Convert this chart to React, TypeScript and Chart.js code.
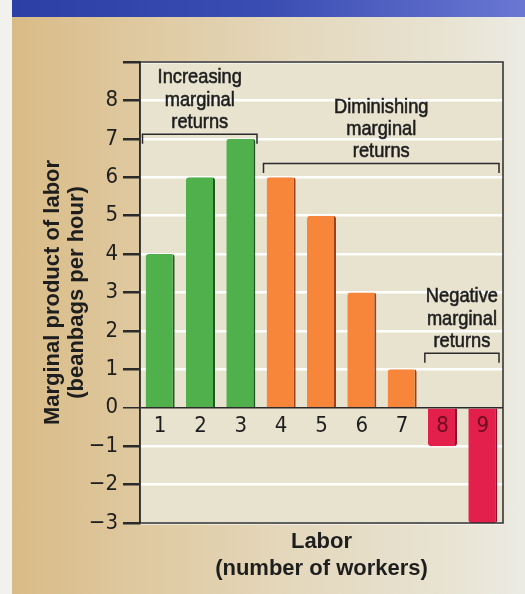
import React, { useEffect, useRef } from 'react';
import { Chart, registerables } from 'chart.js';

Chart.register(...registerables);

// ---- data ----
const workers: string[] = ['1', '2', '3', '4', '5', '6', '7', '8', '9'];
const marginalProduct: number[] = [4, 6, 7, 6, 5, 3, 1, -1, -3];
const yMin = -3;
const yMax = 9;
const yTickStep = 1;

const yTitleLines = ['Marginal product of labor', '(beanbags per hour)'];
const xTitleLines = ['Labor', '(number of workers)'];

const stageLabels: string[][] = [
  ['Increasing', 'marginal', 'returns'],
  ['Diminishing', 'marginal', 'returns'],
  ['Negative', 'marginal', 'returns'],
];
const stageFirstWorker: number[] = [0, 3, 7];
const stageLastWorker: number[] = [2, 8, 8];
const stageBracketLevel: number[] = [7.12, 6.36, 1.42];

// ---- styles ----
const GREEN = '#4fb04c';
const GREEN_EDGE = '#1f5a22';
const ORANGE = '#f7863a';
const ORANGE_EDGE = '#a0401a';
const RED = '#e2204b';
const RED_EDGE = '#8e1030';
const barColors = marginalProduct.map((_, i) => (i < 3 ? GREEN : i < 7 ? ORANGE : RED));
const barEdges = marginalProduct.map((_, i) => (i < 3 ? GREEN_EDGE : i < 7 ? ORANGE_EDGE : RED_EDGE));
const xLabelColors = marginalProduct.map((_, i) => (i < 7 ? '#1e1e1e' : '#6e0c20'));

const NARROW = '"Liberation Sans Narrow", "DejaVu Sans Condensed", "Arial Narrow", sans-serif';
const BOLD = '"Liberation Sans", Arial, Helvetica, sans-serif';
const INK = '#1e1e1e';

const plotBoxPlugin = {
  id: 'plotBox',
  beforeDraw(chart: any) {
    const { ctx, chartArea: a } = chart;
    ctx.save();
    ctx.fillStyle = '#e8e3cf';
    ctx.fillRect(a.left, a.top, a.right - a.left, a.bottom - a.top);
    ctx.restore();
  },
  afterDatasetsDraw(chart: any) {
    const { ctx, chartArea: a } = chart;
    ctx.save();
    ctx.strokeStyle = '#2b2b2b';
    ctx.lineWidth = 1.5;
    ctx.strokeRect(a.left, a.top, a.right - a.left, a.bottom - a.top);
    ctx.restore();
  },
};

const bracketPlugin = {
  id: 'stageBrackets',
  afterDatasetsDraw(chart: any) {
    const { ctx } = chart;
    const x = chart.scales.x;
    const y = chart.scales.y;
    const half = (x.getPixelForValue(1) - x.getPixelForValue(0)) / 2;
    ctx.save();
    stageLabels.forEach((lines, k) => {
      const x0 = x.getPixelForValue(stageFirstWorker[k]) - half + 2.5;
      const x1 = x.getPixelForValue(stageLastWorker[k]) + half - 4;
      const yb = y.getPixelForValue(stageBracketLevel[k]);
      ctx.strokeStyle = '#2b2b2b';
      ctx.lineWidth = 1.5;
      ctx.beginPath();
      ctx.moveTo(x0, yb + 9.5);
      ctx.lineTo(x0, yb);
      ctx.lineTo(x1, yb);
      ctx.lineTo(x1, yb + 9.5);
      ctx.stroke();
      const cx = (x0 + x1) / 2;
      const lh = 22.3;
      const sx = 0.87;
      ctx.save();
      ctx.translate(cx, 0);
      ctx.scale(sx, 1);
      ctx.fillStyle = '#1e1e1e';
      ctx.strokeStyle = '#1e1e1e';
      ctx.lineWidth = 0.6;
      ctx.font = `21px "Liberation Sans", Arial, sans-serif`;
      ctx.textAlign = 'center';
      ctx.textBaseline = 'middle';
      lines.forEach((t, i) => {
        const ty = yb - 12 - (lines.length - 1 - i) * lh;
        ctx.fillText(t, 0, ty);
        ctx.strokeText(t, 0, ty);
      });
      ctx.restore();
    });
    ctx.restore();
  },
};

export default function App() {
  const canvasRef = useRef<HTMLCanvasElement | null>(null);

  useEffect(() => {
    const canvas = canvasRef.current;
    if (!canvas) return;
    let alive = true;
    const chart = new Chart(canvas, {
      type: 'bar',
      data: {
        labels: workers,
        datasets: [
          {
            data: marginalProduct,
            backgroundColor: barColors,
            borderColor: barEdges,
            borderWidth: { top: 0, right: 2, bottom: 0, left: 0 },
            borderRadius: 3,
            borderSkipped: 'start',
            barPercentage: 0.72,
            categoryPercentage: 1,
            xAxisID: 'x',
            yAxisID: 'y',
          },
        ],
      },
      options: {
        responsive: false,
        animation: false,
        events: [],
        layout: { padding: { top: 62, right: 22, bottom: 0, left: 0 } },
        plugins: {
          legend: { display: false },
          tooltip: { enabled: false },
          title: { display: false },
        },
        scales: {
          y: {
            position: 'left',
            min: yMin,
            max: yMax,
            afterFit(scale: any) {
              scale.width = 140;
            },
            ticks: {
              stepSize: yTickStep,
              color: INK,
              padding: 5,
              font: { family: NARROW, size: 22 },
              callback: (v: any) => (Number(v) === yMax ? '' : String(v).replace('-', '\u2212')),
            },
            grid: {
              color: (c: any) => (c.tick && c.tick.value === 0 ? '#2b2b2b' : '#ffffff'),
              lineWidth: (c: any) => (c.tick && c.tick.value === 0 ? 1.5 : 2.5),
              tickColor: '#2b2b2b',
              tickLength: 17,
              drawTicks: true,
            },
            border: { display: true, color: '#2b2b2b', width: 1.5 },
            title: {
              display: true,
              text: yTitleLines,
              color: '#1e1e1e',
              font: { family: BOLD, size: 22, weight: 'bold', lineHeight: 1.1 },
              padding: { top: 41, bottom: 0 },
            },
          },
          x: {
            type: 'category',
            position: { y: 0 } as any,
            afterFit(scale: any) {
              scale.height = 0;
            },
            grid: { display: false, drawTicks: false },
            border: { display: false },
            ticks: {
              z: 1,
              color: xLabelColors,
              padding: 5,
              font: { family: NARROW, size: 22 },
              maxRotation: 0,
              autoSkip: false,
            },
          },
          xTitle: {
            type: 'category',
            position: 'bottom',
            labels: workers,
            afterFit(scale: any) {
              scale.height = 71;
            },
            grid: { display: false, drawTicks: false },
            border: { display: false },
            ticks: { display: false },
            title: {
              display: true,
              text: xTitleLines,
              color: '#1e1e1e',
              font: { family: BOLD, size: 22, weight: 'bold', lineHeight: 1.2 },
              padding: { top: 0, bottom: 12 },
            },
          },
        },
      } as any,
      plugins: [plotBoxPlugin, bracketPlugin],
    });
    const fontSpecs = [
      '22px "Liberation Sans Narrow"',
      '22px "DejaVu Sans Condensed"',
      'bold 22px "Liberation Sans"',
      '21px "Liberation Sans"',
    ];
    if ((document as any).fonts && (document as any).fonts.load) {
      Promise.all(fontSpecs.map((f) => (document as any).fonts.load(f).catch(() => null)))
        .then(() => {
          if (alive) chart.update('none');
        })
        .catch(() => null);
    }
    return () => {
      alive = false;
      chart.destroy();
    };
  }, []);

  return (
    <div
      style={{
        position: 'absolute',
        left: 0,
        top: 0,
        width: 525,
        height: 594,
        overflow: 'hidden',
        background: '#f1f1ee',
      }}
    >
      <div
        style={{
          position: 'absolute',
          left: 12,
          top: 0,
          width: 513,
          height: 17,
          background: 'linear-gradient(to right, #2b3fa4 0%, #3a4db2 50%, #6a77d3 100%)',
        }}
      />
      <div
        style={{
          position: 'absolute',
          left: 12,
          top: 17,
          width: 513,
          height: 577,
          background:
            'linear-gradient(to right, #d9bb86 0%, #dfc9a0 25%, #e4d8bd 55%, #e8e3d2 85%, #ecebe3 100%)',
        }}
      />
      <canvas
        ref={canvasRef}
        width={525}
        height={594}
        style={{ position: 'absolute', left: 0, top: 0, width: 525, height: 594 }}
      />
    </div>
  );
}
